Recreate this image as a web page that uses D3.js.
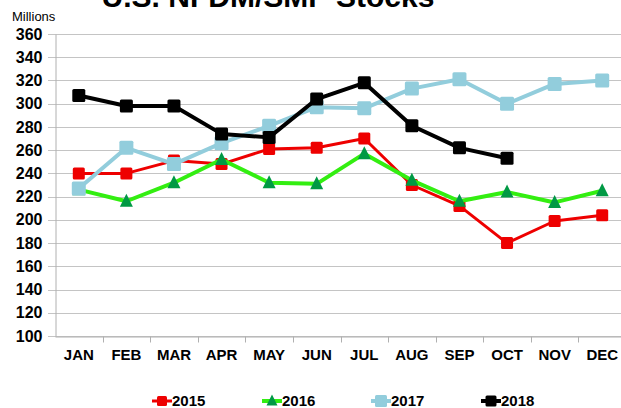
<!DOCTYPE html>
<html>
<head>
<meta charset="utf-8">
<script src="https://cdn.jsdelivr.net/npm/d3@7"></script>
<style>
  body { margin: 0; background: #fff; }
  svg { display: block; font-family: "Liberation Sans", Arial, sans-serif; }
</style>
</head>
<body>
<script>
// chart data
const months = ["JAN", "FEB", "MAR", "APR", "MAY", "JUN", "JUL", "AUG", "SEP", "OCT", "NOV", "DEC"];
const yTicks = [100, 120, 140, 160, 180, 200, 220, 240, 260, 280, 300, 320, 340, 360];
const s2015 = [240, 240, 251, 248, 261, 262, 270, 230, 212, 180, 199, 204];
const s2016 = [226, 216, 232, 252, 232, 231, 257, 234, 216, 224, 215, 225];
const s2017 = [227, 262, 248, 266, 281, 297, 296, 313, 321, 300, 317, 320];
const s2018 = [307, 298, 298, 274, 271, 304, 318, 281, 262, 253];

const series = [
  {name: "2015", values: s2015, line: "#ee0000", marker: "#ee0000", shape: "square", size: 12, width: 3},
  {name: "2016", values: s2016, line: "#33ee11", marker: "#009944", shape: "triangle", size: 13, width: 4},
  {name: "2017", values: s2017, line: "#92cddc", marker: "#92cddc", shape: "square", size: 14, width: 4},
  {name: "2018", values: s2018, line: "#000000", marker: "#000000", shape: "square", size: 13, width: 4}
];

const W = 621, H = 408;
const svg = d3.select("body").append("svg").attr("width", W).attr("height", H);

const x = d3.scaleBand().domain(months).range([55, 626]);
const y = d3.scaleLinear().domain([100, 360]).range([336, 34]);

// title (partly cut off at the top, as in the source image)
svg.append("text")
  .attr("x", 268).attr("y", 7)
  .attr("text-anchor", "middle")
  .style("font-size", "30px").style("font-weight", "bold")
  .text("U.S. NFDM/SMP Stocks");

svg.append("text")
  .attr("x", 12).attr("y", 21)
  .style("font-size", "13px")
  .text("Millions");

// gridlines
svg.append("g").selectAll("line")
  .data(yTicks)
  .join("line")
  .attr("x1", 48).attr("x2", W)
  .attr("y1", d => Math.round(y(d)) + 0.5).attr("y2", d => Math.round(y(d)) + 0.5)
  .attr("stroke", "#c4c4c4").attr("stroke-width", 1);

// y axis
const yAxis = svg.append("g")
  .attr("transform", "translate(55.5,0)")
  .call(d3.axisLeft(y).tickValues(yTicks).tickSize(0).tickPadding(13));
yAxis.select(".domain").attr("stroke", "#b0b0b0");
yAxis.selectAll("text").style("font-size", "16px").style("font-weight", "bold").attr("fill", "#000");

// x axis
const xAxis = svg.append("g")
  .attr("transform", "translate(0,336.5)")
  .call(d3.axisBottom(x).tickSize(0).tickPadding(13));
xAxis.select(".domain").attr("stroke", "#b0b0b0");
xAxis.selectAll("text").style("font-size", "15px").style("font-weight", "bold").attr("fill", "#000");
xAxis.selectAll(".tickmark")
  .data(months.slice(1))
  .join("line")
  .attr("class", "tickmark")
  .attr("x1", d => Math.round(x(d)) + 0.5).attr("x2", d => Math.round(x(d)) + 0.5)
  .attr("y1", 0).attr("y2", 6)
  .attr("stroke", "#b0b0b0");

const cx = (d, i) => x(months[i]) + x.bandwidth() / 2;

function drawMarker(g, s, px, py) {
  if (s.shape === "square") {
    g.append("rect")
      .attr("x", px - s.size / 2).attr("y", py - s.size / 2)
      .attr("width", s.size).attr("height", s.size)
      .attr("rx", 1.5)
      .attr("fill", s.marker);
  } else {
    const r = s.size / 2;
    g.append("path")
      .attr("d", `M${px},${py - r - 1}L${px + r},${py + r - 1}L${px - r},${py + r - 1}Z`)
      .attr("fill", s.marker);
  }
}

const line = d3.line().x(cx).y(d => y(d));

series.forEach(s => {
  const g = svg.append("g");
  g.append("path")
    .datum(s.values)
    .attr("d", line)
    .attr("fill", "none")
    .attr("stroke", s.line)
    .attr("stroke-width", s.width)
    .attr("stroke-linejoin", "round");
  s.values.forEach((v, i) => drawMarker(g, s, cx(v, i), y(v)));
});

// legend
const legendX = [152, 262, 371, 481];
series.forEach((s, i) => {
  const g = svg.append("g");
  const lx = legendX[i], ly = 401;
  g.append("line")
    .attr("x1", lx).attr("x2", lx + 20)
    .attr("y1", ly).attr("y2", ly)
    .attr("stroke", s.line).attr("stroke-width", s.width);
  drawMarker(g, Object.assign({}, s, {size: s.size - 2}), lx + 10, ly);
  g.append("text")
    .attr("x", lx + 20).attr("y", 406)
    .style("font-size", "15px").style("font-weight", "bold")
    .text(s.name);
});
</script>
</body>
</html>
